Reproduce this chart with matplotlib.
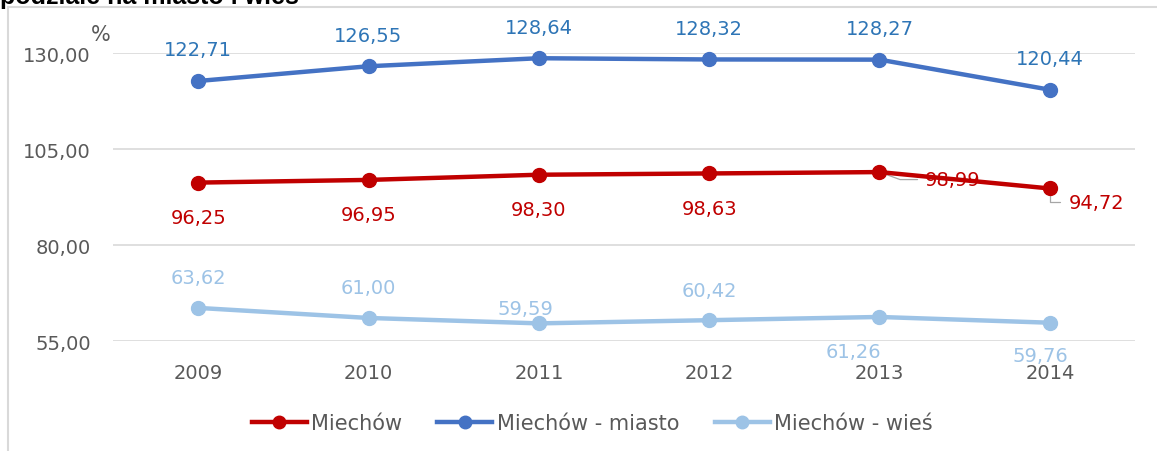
import matplotlib
matplotlib.use("Agg")
import matplotlib.pyplot as plt
from matplotlib.lines import Line2D

years = ["2009", "2010", "2011", "2012", "2013", "2014"]
miechow = [96.25, 96.95, 98.30, 98.63, 98.99, 94.72]
miasto = [122.71, 126.55, 128.64, 128.32, 128.27, 120.44]
wies = [63.62, 61.00, 59.59, 60.42, 61.26, 59.76]
series_names = ["Miechów", "Miechów - miasto", "Miechów - wieś"]
yticks = [55, 80, 105, 130]
title = "podziale na miasto i wieś"

C_RED = "#C00000"
C_BLUE = "#4472C4"
C_LIGHT = "#9DC3E6"
GRID = "#D9D9D9"
TXT = "#595959"

W, H = 1157, 452
plt.rcParams["font.family"] = ["DejaVu Sans"]
fig = plt.figure(figsize=(W / 100, H / 100), dpi=100)

ax = fig.add_axes([113 / W, 1 - 342 / H, (1135 - 113) / W, (342 - 54) / H])
x = list(range(len(years)))
ax.set_xlim(-0.5, len(years) - 0.5)
ax.set_ylim(55, 130)
ax.set_yticks(yticks)
ax.set_yticklabels([f"{v:.2f}".replace(".", ",") for v in yticks])
ax.set_xticks(x)
ax.set_xticklabels(years)
ax.tick_params(axis="both", length=0, labelsize=14, labelcolor=TXT)
ax.tick_params(axis="y", pad=16)
ax.tick_params(axis="x", pad=16)
for s in ax.spines.values():
    s.set_visible(False)
ax.grid(axis="y", color=GRID, lw=1.2)
ax.set_axisbelow(True)

kw = dict(lw=3.2, marker="o", ms=10, clip_on=False, zorder=3)
ax.plot(x, miechow, color=C_RED, **kw)
ax.plot(x, miasto, color=C_BLUE, **kw)
ax.plot(x, wies, color=C_LIGHT, **kw)


def fmt(v):
    return f"{v:.2f}".replace(".", ",")


lab_kw = dict(textcoords="offset pixels", ha="center", va="center", fontsize=14, zorder=4)
for i, v in enumerate(miasto):
    ax.annotate(fmt(v), (i, v), xytext=(0, 31), color="#2E75B6", **lab_kw)
for i, v in enumerate(miechow[:4]):
    ax.annotate(fmt(v), (i, v), xytext=(0, -35), color=C_RED, **lab_kw)
wies_offsets = [(0, 30), (0, 30), (-13, 15), (0, 30), (-26, -35), (-9, -33)]
for i, v in enumerate(wies):
    ax.annotate(fmt(v), (i, v), xytext=wies_offsets[i], color=C_LIGHT, **lab_kw)

# red labels with leader lines
ax.annotate(fmt(miechow[4]), (4, miechow[4]), xytext=(45, -7.5), textcoords="offset pixels",
            ha="left", va="center", fontsize=14, color=C_RED, zorder=2,
            arrowprops=dict(arrowstyle="-", color="#A6A6A6", lw=0.9, relpos=(0, 0.5),
                            connectionstyle="angle,angleA=0,angleB=-20,rad=0",
                            shrinkA=3, shrinkB=2))
ax.annotate(fmt(miechow[5]), (5, miechow[5]), xytext=(19, -14), textcoords="offset pixels",
            ha="left", va="center", fontsize=14, color=C_RED, zorder=2,
            arrowprops=dict(arrowstyle="-", color="#A6A6A6", lw=0.9, relpos=(0, 0.5),
                            connectionstyle="angle,angleA=0,angleB=90,rad=0",
                            shrinkA=4, shrinkB=3))

fig.text(101 / W, 1 - 35 / H, "%", fontsize=15, color=TXT, ha="center", va="center")

# legend
handles = [Line2D([0], [0], color=c, lw=3.2, marker="o", ms=9)
           for c in (C_RED, C_BLUE, C_LIGHT)]
leg = fig.legend(handles, series_names, loc="center", bbox_to_anchor=(592 / W, 1 - 424 / H),
                 ncol=3, frameon=False, handlelength=2.64, handletextpad=0.2,
                 columnspacing=1.7, borderpad=0, prop={"size": 15})
for t in leg.get_texts():
    t.set_color(TXT)

# chart border (left and top visible)
fig.add_artist(Line2D([8 / W, 8 / W], [0, 1 - 8 / H], color=GRID, lw=1.5, transform=fig.transFigure))
fig.add_artist(Line2D([8 / W, 1], [1 - 8 / H, 1 - 8 / H], color=GRID, lw=1.5, transform=fig.transFigure))

# title, cut off at the top edge as in the reference
fig.text(0, 1 - 4 / H, title, fontsize=18, fontweight="bold", family="Liberation Sans",
         ha="left", va="baseline", color="black")

fig.savefig("out.png", dpi=100)
